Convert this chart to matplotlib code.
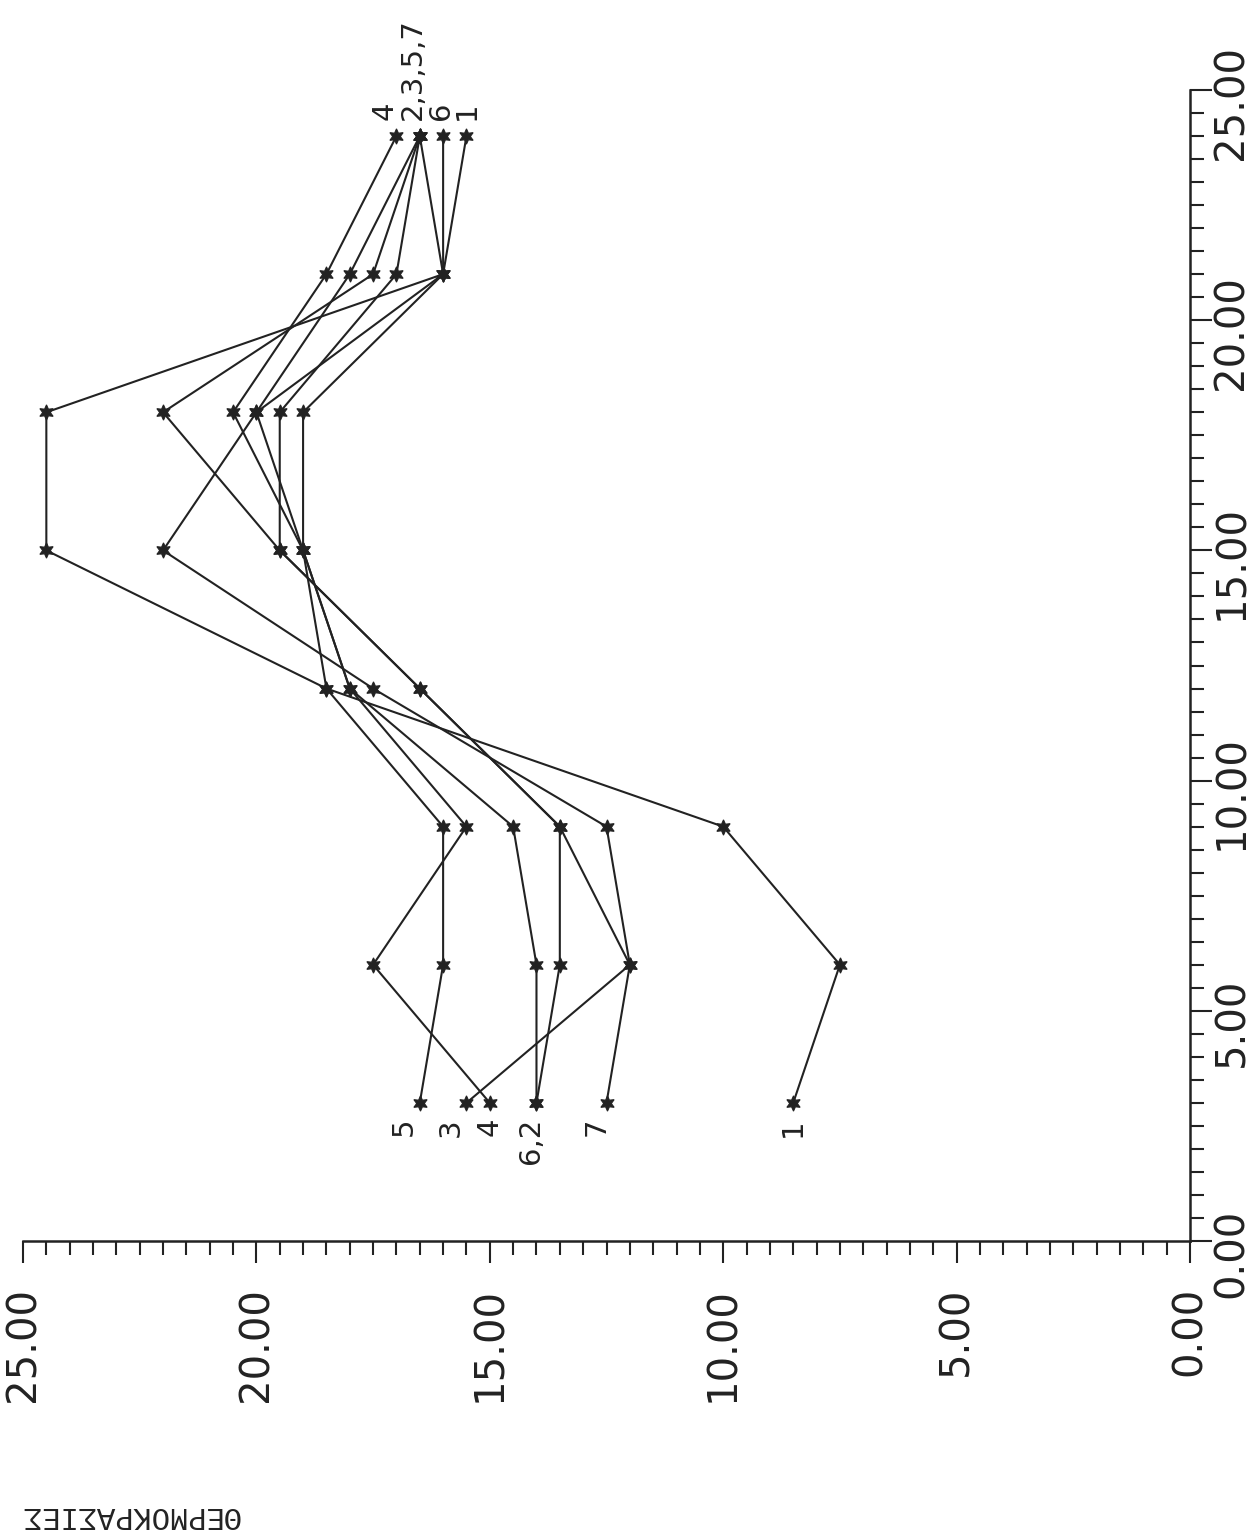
import matplotlib
matplotlib.use('Agg')
import matplotlib.pyplot as plt
import matplotlib.transforms as mtransforms
from matplotlib.ticker import MultipleLocator, FormatStrFormatter

# Datos: hora del día y temperatura de cada estación
horas = [3, 6, 9, 12, 15, 18, 21, 24]
serie_1 = [8.5, 7.5, 10.0, 18.5, 24.5, 24.5, 16.0, 15.5]
serie_2 = [14.0, 13.5, 13.5, 16.5, 19.5, 19.5, 17.0, 16.5]
serie_3 = [15.5, 12.0, 13.5, 16.5, 19.5, 22.0, 17.5, 16.5]
serie_4 = [15.0, 17.5, 15.5, 18.0, 19.0, 20.5, 18.5, 17.0]
serie_5 = [16.5, 16.0, 16.0, 18.5, 19.0, 20.0, 18.0, 16.5]
serie_6 = [14.0, 14.0, 14.5, 18.0, 19.0, 19.0, 16.0, 16.0]
serie_7 = [12.5, 12.0, 12.5, 17.5, 22.0, 20.0, 16.0, 16.5]
series = [serie_1, serie_2, serie_3, serie_4, serie_5, serie_6, serie_7]

# Etiquetas al inicio (hora 3) y al final (hora 24)
etiquetas_inicio = ['5', '3', '4', '6,2', '7', '1']
valores_inicio = [serie_5[0], serie_3[0], serie_4[0], serie_6[0], serie_7[0], serie_1[0]]
desplaz_inicio = [-16, -16, 0, -5, -10, 0]   # px
etiquetas_fin = ['4', '2,3,5,7', '6', '1']
valores_fin = [serie_4[-1], serie_2[-1], serie_6[-1], serie_1[-1]]
desplaz_fin = [-12, -7, -2, 0]   # px

titulo_eje = 'ΘΕΡΜΟΚΡΑΣΙΕΣ'

W, H = 1258, 1538
tinta = '#222222'
pt = 0.72  # puntos por pixel a 100 dpi

fig = plt.figure(figsize=(W / 100, H / 100), dpi=100)
ax = fig.add_axes([23 / W, (H - 1241) / H, (1190 - 23) / W, (1241 - 90) / H])

for s in series:
    ax.plot(s, horas, color=tinta, lw=1.5, marker=(6, 1, 0), ms=11,
            markeredgewidth=0.8, clip_on=False)

ax.set_xlim(25, 0)
ax.set_ylim(0, 25)

for sp in ['top', 'left']:
    ax.spines[sp].set_visible(False)
for sp in ['bottom', 'right']:
    ax.spines[sp].set_linewidth(1.8)
    ax.spines[sp].set_color(tinta)

ax.yaxis.tick_right()
for eje in [ax.xaxis, ax.yaxis]:
    eje.set_major_locator(MultipleLocator(5))
    eje.set_minor_locator(MultipleLocator(0.5))
    eje.set_major_formatter(FormatStrFormatter('%.2f'))

ax.tick_params(which='major', length=22 * pt, width=1.5, direction='out',
               color=tinta, labelsize=29, labelcolor=tinta)
ax.tick_params(which='minor', length=14 * pt, width=1.5, direction='out', color=tinta)
ax.tick_params(axis='x', labelrotation=90, pad=24 * pt)
ax.tick_params(axis='y', labelrotation=90, pad=0)

# Etiquetas de las series
for txt, v, dx in zip(etiquetas_inicio, valores_inicio, desplaz_inicio):
    ax.annotate(txt, (v, horas[0]), xytext=(dx * pt, -15 * pt), textcoords='offset points',
                rotation=90, ha='center', va='top', fontsize=21, color=tinta)
for txt, v, dx in zip(etiquetas_fin, valores_fin, desplaz_fin):
    ax.annotate(txt, (v, horas[-1]), xytext=(dx * pt, 16 * pt), textcoords='offset points',
                rotation=90, ha='center', va='bottom', fontsize=21, color=tinta)

fig.text(130 / W, 1 - 1515 / H, titulo_eje, rotation=180, ha='center', va='center',
         fontsize=22, family=['Liberation Mono', 'DejaVu Sans Mono'], color=tinta)

# Desplazar las etiquetas del eje derecho un poco hacia abajo
fig.canvas.draw()
bajar = mtransforms.ScaledTranslation(0, -12 / 100, fig.dpi_scale_trans)
for lbl in ax.yaxis.get_majorticklabels():
    lbl.set_va('center')
    lbl.set_ha('left')
    lbl.set_transform(lbl.get_transform() + bajar)

fig.savefig('out.png', dpi=100, facecolor='white')
